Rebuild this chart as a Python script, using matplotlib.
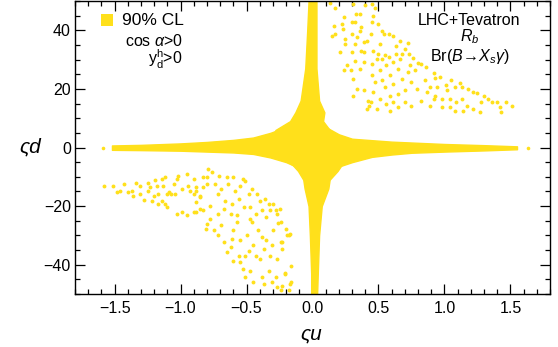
import matplotlib
matplotlib.use("Agg")
import matplotlib.pyplot as plt
from matplotlib.ticker import MultipleLocator

plt.rcParams['font.family'] = ['Liberation Sans', 'DejaVu Sans']
plt.rcParams['mathtext.fontset'] = 'custom'
plt.rcParams['mathtext.rm'] = 'Liberation Sans'
plt.rcParams['mathtext.it'] = 'Liberation Sans:italic'

yellow = '#FFE01B'

# dense horizontal arm (zeta_d ~ 0): envelope
h_x = [-1.52, -1.3, -1.0, -0.8, -0.6, -0.45, -0.32, -0.2, -0.1, 0.0,
       0.1, 0.2, 0.3, 0.45, 0.6, 0.75, 1.0, 1.3, 1.55]
h_top = [0.7, 0.9, 1.4, 1.9, 2.6, 3.4, 5.0, 7.0, 9.0, 10.0,
         7.0, 4.5, 3.0, 2.5, 2.0, 1.7, 1.2, 0.8, 0.4]
h_bot = [-0.8, -0.9, -1.1, -1.4, -1.7, -2.2, -3.4, -5.0, -7.0, -10.0,
         -9.0, -6.5, -5.0, -3.2, -2.4, -1.8, -1.4, -1.0, -0.6]

# dense vertical arm (zeta_u ~ 0)
v_y = [50, 40, 27, 16, 12, 9, 6, 0, -6, -8, -11, -14, -20, -30, -43, -50]
v_left = [-0.03, -0.04, -0.055, -0.09, -0.13, -0.17, -0.28, -0.35, -0.15, -0.11,
          -0.07, -0.06, -0.03, -0.02, -0.01, -0.01]
v_right = [0.03, 0.03, 0.03, 0.05, 0.09, 0.08, 0.13, 0.3, 0.22, 0.19,
           0.13, 0.12, 0.07, 0.05, 0.04, 0.035]

stray_x = [-1.59, 1.63]
stray_y = [0.0, 0.0]

# sparse upper-right island
ur_x = [0.13, 0.17, 0.24, 0.22, 0.16, 0.17, 0.15, 0.23, 0.30, 0.32, 0.33, 0.31,
        0.40, 0.45, 0.46, 0.47, 0.36, 0.37, 0.36, 0.30, 0.25, 0.34, 0.44, 0.45,
        0.50, 0.53, 0.54, 0.58, 0.61, 0.51, 0.41, 0.39, 0.32, 0.25, 0.21, 0.30,
        0.37, 0.39, 0.46, 0.50, 0.55, 0.63, 0.63, 0.68, 0.73, 0.58, 0.53,
        0.32, 0.26, 0.24, 0.31, 0.29, 0.36, 0.39, 0.45, 0.49, 0.51, 0.53, 0.47,
        0.45, 0.56, 0.61, 0.65, 0.66, 0.59, 0.61, 0.68, 0.72, 0.74, 0.78, 0.82,
        0.75, 0.79, 0.85, 0.89, 0.87, 0.93, 0.70, 0.65, 0.59, 0.56, 0.61, 0.65,
        0.70, 0.51, 0.46, 0.39, 0.34, 0.31, 0.42, 0.41, 0.49, 0.59, 0.75, 0.82,
        0.89, 0.55,
        0.93, 0.94, 1.01, 1.02, 1.08, 1.13, 1.22, 0.92, 0.98, 1.04, 1.09, 1.13,
        1.17, 1.04, 0.98, 1.08, 1.14, 1.22, 1.33, 1.36, 1.40, 1.42, 1.47, 1.51,
        1.28, 1.27, 1.43,
        0.70, 0.76, 0.80, 0.72, 0.66, 0.86, 0.92, 0.97, 1.05, 1.12, 1.18, 1.25,
        1.30, 0.43, 0.44]
ur_y = [49.2, 47.7, 44.7, 42.2, 41.3, 38.9, 37.9, 40.3, 42.8, 42.8, 45.6, 49.0,
        48.8, 49.0, 45.0, 47.7, 45.6, 41.1, 39.9, 38.8, 37.1, 37.6, 38.8, 42.8,
        42.0, 39.9, 38.8, 38.8, 38.2, 35.4, 36.5, 35.9, 35.4, 35.4, 32.5, 32.5,
        33.1, 32.5, 33.1, 32.0, 31.4, 34.8, 32.0, 32.0, 32.0, 30.8, 30.3,
        29.4, 28.0, 26.3, 23.4, 26.3, 26.9, 29.1, 28.6, 30.3, 26.3, 22.9, 22.3,
        24.6, 28.0, 29.1, 26.9, 30.3, 24.6, 21.7, 23.4, 25.7, 28.0, 26.3, 28.6,
        22.3, 20.0, 22.9, 20.6, 18.9, 17.7, 19.5, 18.3, 17.7, 14.9, 15.5, 13.8,
        15.5, 16.6, 18.9, 19.5, 20.0, 17.7, 16.0, 13.2, 13.2, 12.6, 14.3, 16.0,
        14.3, 20.6,
        23.7, 20.6, 21.2, 19.5, 20.6, 20.6, 18.9, 16.6, 16.6, 16.6, 15.5, 16.6,
        14.3, 13.8, 13.8, 12.6, 12.6, 13.2, 16.6, 15.5, 15.5, 13.8, 15.5, 14.3,
        15.5, 12.0, 12.0,
        33.5, 30.5, 29.0, 35.5, 36.5, 27.5, 25.3, 24.0, 23.0, 22.0, 20.0, 18.5,
        17.5, 14.0, 15.5]

# sparse lower-left island
ll_x = [-1.58, -1.51, -1.48, -1.46, -1.43, -1.40, -1.37, -1.36, -1.34, -1.31,
        -1.31, -1.28, -1.25, -1.25, -1.23, -1.20, -1.19, -1.18, -1.22, -1.17,
        -1.14, -1.12, -1.13, -1.10, -1.09, -1.07, -1.04, -1.05, -1.03, -1.02,
        -0.99, -0.95, -0.94, -0.93, -0.90, -0.88, -0.85, -0.83, -0.80, -1.12,
        -1.10, -1.03, -0.99, -0.95, -0.90, -0.85, -0.88, -1.17, -1.14,
        -0.90, -0.88, -0.85, -0.83, -0.80, -0.79, -0.76, -0.74, -0.72, -0.71,
        -0.78, -0.83, -0.88, -0.69, -0.65, -0.64, -0.60, -0.59, -0.55, -0.53,
        -0.51, -0.66, -0.67, -0.72, -0.61, -0.56, -0.52, -0.48, -0.46, -0.42,
        -0.40, -0.36, -0.33, -0.30, -0.28, -0.32, -0.38, -0.43, -0.47, -0.57,
        -0.62, -0.27, -0.35,
        -0.80, -0.81, -0.75, -0.72, -0.69, -0.67, -0.65, -0.62, -0.61, -0.60,
        -0.57, -0.56, -0.55, -0.51, -0.50, -0.48, -0.46, -0.45, -0.43, -0.41,
        -0.40, -0.38, -0.37, -0.35, -0.32, -0.31, -0.30, -0.27, -0.24, -0.23,
        -0.19, -0.16, -0.53, -0.51, -0.47, -0.45, -0.38, -0.37, -0.31, -0.28,
        -0.27, -0.23, -0.21, -0.17, -0.18, -0.24, -0.33, -0.55, -0.60, -0.47,
        -0.78, -0.24,
        -0.26, -0.20, -0.18, -0.23, -0.17, -0.21, -0.16, -0.25]
ll_y = [-13.2, -13.2, -15.2, -14.9, -12.6, -15.2, -14.7, -16.4, -12.2, -13.3,
        -15.8, -17.8, -14.7, -12.2, -13.5, -16.4, -11.0, -13.3, -18.1, -19.2,
        -10.7, -10.1, -13.3, -15.8, -15.2, -15.8, -15.8, -12.4, -10.7, -9.6,
        -14.1, -9.2, -13.0, -14.7, -15.8, -13.5, -17.0, -10.1, -12.4, -19.2,
        -20.4, -22.6, -22.1, -23.2, -22.1, -20.9, -18.7, -15.8, -18.1,
        -10.7, -14.7, -16.4, -13.5, -10.1, -7.3, -8.4, -12.4, -15.8, -9.6,
        -19.8, -21.5, -22.1, -14.1, -10.1, -12.4, -10.1, -14.7, -13.0, -10.7,
        -11.3, -18.1, -20.9, -22.6, -19.2, -17.5, -20.4, -15.8, -14.1, -15.8,
        -18.1, -17.5, -19.2, -19.2, -21.5, -21.5, -21.5, -22.6, -20.4, -23.2,
        -22.6, -22.6, -23.8,
        -26.0, -27.7, -28.3, -30.0, -26.6, -32.3, -35.7, -34.0, -31.2, -28.3,
        -25.5, -36.9, -31.7, -36.9, -30.0, -35.2, -25.5, -33.4, -36.9, -28.3,
        -38.0, -30.6, -34.6, -31.7, -36.9, -33.4, -28.3, -38.0, -32.3, -34.6,
        -30.0, -40.3, -41.4, -44.3, -42.0, -46.0, -44.3, -46.5, -46.0, -44.3,
        -47.7, -47.1, -43.1, -46.5, -48.8, -48.8, -42.0, -39.2, -38.6, -24.3,
        -24.3, -25.5,
        -25.6, -27.9, -30.0, -32.4, -29.6, -42.7, -46.0, -21.0]

fig = plt.figure(figsize=(5.58, 3.47), dpi=100)
ax = fig.add_axes([75 / 558, 53 / 347, 475 / 558, 293 / 347])

ax.fill_between(h_x, h_bot, h_top, color=yellow, lw=1.0, zorder=2)
ax.fill_betweenx(v_y, v_left, v_right, color=yellow, lw=1.0, zorder=2)
ax.plot(stray_x, stray_y, 'o', color=yellow, ms=2.6, mew=0, zorder=2)
ax.plot(ur_x, ur_y, 'o', color=yellow, ms=2.8, mew=0, zorder=2)
ax.plot(ll_x, ll_y, 'o', color=yellow, ms=2.8, mew=0, zorder=2)

ax.set_xlim(-1.8, 1.8)
ax.set_ylim(-50, 50)
ax.xaxis.set_minor_locator(MultipleLocator(0.1))
ax.yaxis.set_minor_locator(MultipleLocator(5))
ax.set_xticks([-1.5, -1.0, -0.5, 0.0, 0.5, 1.0, 1.5])
ax.set_xticklabels(['\u22121.5', '\u22121.0', '\u22120.5', '0.0', '0.5', '1.0', '1.5'])
ax.set_yticks([-40, -20, 0, 20, 40])
ax.set_yticklabels(['\u221240', '\u221220', '0', '20', '40'])
ax.tick_params(which='both', direction='in', top=True, right=True,
               labelsize=11.5, width=0.9)
ax.tick_params(axis='x', pad=5)
ax.tick_params(axis='y', pad=3)
ax.tick_params(which='major', length=7)
ax.tick_params(which='minor', length=3.5)
for s in ax.spines.values():
    s.set_linewidth(1.0)

fig.text(311 / 558, 1 - 334 / 347, '\u03c2u', fontsize=15, fontstyle='italic',
         ha='center', va='center')
fig.text(30 / 558, 1 - 147 / 347, '\u03c2d', fontsize=15, fontstyle='italic',
         ha='center', va='center')

# legend-like annotations
ax.plot([0.0684], [0.935], 's', color=yellow, ms=8, mew=0, transform=ax.transAxes)
ax.text(0.099, 0.935, '90% CL', fontsize=12.5, transform=ax.transAxes,
        ha='left', va='center')
ax.text(0.105, 0.863, r'cos $\alpha$>0', fontsize=11.5, transform=ax.transAxes,
        ha='left', va='center')
ax.text(0.227, 0.80, r'$\mathregular{y_d^h}$>0', fontsize=11.5,
        transform=ax.transAxes, ha='right', va='center')

ax.text(0.8305, 0.932, 'LHC+Tevatron', fontsize=11.5, transform=ax.transAxes,
        ha='center', va='center')
ax.text(0.8305, 0.877, r'$R_b$', fontsize=11.5, transform=ax.transAxes,
        ha='center', va='center')
ax.text(0.8305, 0.812, r'Br($B\!\rightarrow\!X_s\gamma$)', fontsize=11.5,
        transform=ax.transAxes, ha='center', va='center')

fig.savefig('out.png', dpi=100)
